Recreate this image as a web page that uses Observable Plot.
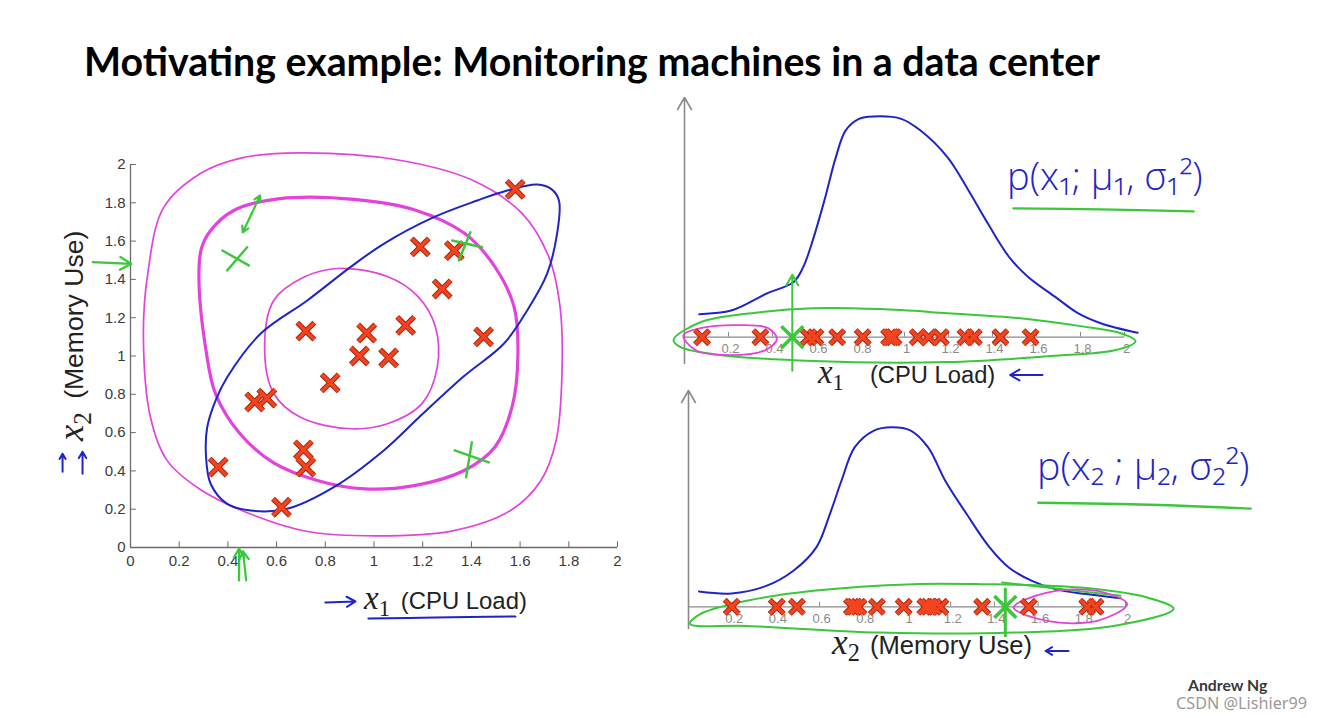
<!DOCTYPE html>
<html>
<head>
<meta charset="utf-8">
<script src="https://cdn.jsdelivr.net/npm/d3@7"></script>
<script src="https://cdn.jsdelivr.net/npm/@observablehq/plot@0.6"></script>
<style>
  html, body { margin: 0; padding: 0; background: #fff; }
  #page { position: relative; width: 1322px; height: 718px; overflow: hidden; background: #fff; }
  .p { position: absolute; }
  .p svg { overflow: visible; }
  .t { position: absolute; white-space: nowrap; line-height: 1; transform: translateY(-50%); color: #222; }
  .mx { font-family: "Liberation Serif", "DejaVu Serif", serif; font-style: italic; font-size: 1.38em; }
  .sb { font-family: "Liberation Serif", "DejaVu Serif", serif; font-size: 0.95em; position: relative; top: 0.3em; }
  .lab { font-family: "Liberation Sans", Arial, sans-serif; font-size: 22px; }
  .rot { position: absolute; white-space: nowrap; line-height: 1; transform-origin: 0 0; color: #222; }
  .hw { font-family: "Open Sans", "DejaVu Sans", sans-serif; font-weight: 300; color: #1f24c8; font-size: 34px; }
</style>
</head>
<body>
<div id="page">
  <div class="t" id="title" data-w="1016" style="left:84px;top:61px;font-family:Lato,'Open Sans',sans-serif;font-weight:700;font-size:36px;color:#000;">Motivating example: Monitoring machines in a data center</div>

  <div class="t lab" data-w="163" style="left:364px;top:598px;"><span class="mx">x</span><span class="sb">1</span><span style="margin-left:0.45em">(CPU Load)</span></div>
  <div class="rot lab" id="ylab" data-w="210"><span class="mx">x</span><span class="sb">2</span><span style="margin-left:0.5em">(Memory Use)</span></div>

  <div class="t lab" data-w="177" style="left:818px;top:372px;"><span class="mx">x</span><span class="sb">1</span><span style="margin-left:1.1em">(CPU Load)</span></div>
  <div class="t lab" data-w="200" style="left:832px;top:643px;"><span class="mx">x</span><span class="sb">2</span><span style="margin-left:0.4em">(Memory Use)</span></div>

  <div class="t hw" data-w="196" style="left:1007px;top:175px;">p(x₁; μ₁, σ₁²)</div>
  <div class="t hw" data-w="213" style="left:1037px;top:466px;">p(x₂ ; μ₂, σ₂²)</div>

  <div class="t" data-w="79" style="left:1188px;top:685px;font-family:Lato,sans-serif;font-weight:700;font-size:14px;color:#3a3a3a;">Andrew Ng</div>
  <div class="t" data-w="131" style="left:1176px;top:703px;font-family:'Noto Sans',sans-serif;font-size:13px;color:#9a9a9a;">CSDN @Lishier99</div>
</div>
<script>
// ---------- data ----------
const ticks = [0, 0.2, 0.4, 0.6, 0.8, 1, 1.2, 1.4, 1.6, 1.8, 2];
const tickLabels = ["0", "0.2", "0.4", "0.6", "0.8", "1", "1.2", "1.4", "1.6", "1.8", "2"];
const rTicks = [0.2, 0.4, 0.6, 0.8, 1, 1.2, 1.4, 1.6, 1.8, 2];
const rTickLabels = ["0.2", "0.4", "0.6", "0.8", "1", "1.2", "1.4", "1.6", "1.8", "2"];
const xDomain = [0, 2];
const yDomainLeft = [0, 2];
const yDomainTop = [-0.11, 1];
const yDomainBottom = [-0.1, 1];

// 2-D scatter (x1 CPU load, x2 memory use)
const cpuLoad = [1.58, 1.19, 1.33, 1.28, 0.72, 0.97, 1.13, 1.45, 0.94, 1.06, 0.82, 0.51, 0.56, 0.71, 0.72, 0.36, 0.62];
const memUse  = [1.87, 1.57, 1.55, 1.35, 1.13, 1.12, 1.16, 1.10, 1.00, 0.99, 0.86, 0.76, 0.78, 0.51, 0.42, 0.42, 0.21];

// hand-drawn contours (left plot)
const outerX = [0.693, 1.087, 1.40, 1.606, 1.717, 1.764, 1.772, 1.748, 1.685, 1.559, 1.323, 1.008, 0.72, 0.49, 0.29, 0.15, 0.082, 0.053, 0.071, 0.136, 0.287, 0.457];
const outerY = [2.061, 2.026, 1.92, 1.747, 1.52, 1.258, 0.908, 0.559, 0.349, 0.192, 0.087, 0.061, 0.085, 0.176, 0.30, 0.455, 0.68, 1.10, 1.432, 1.775, 1.953, 2.035];
const midX = [0.614, 0.929, 1.165, 1.37, 1.496, 1.575, 1.591, 1.567, 1.496, 1.37, 1.165, 0.961, 0.767, 0.59, 0.45, 0.35, 0.31, 0.281, 0.291, 0.329, 0.424];
const midY = [1.822, 1.817, 1.764, 1.642, 1.467, 1.258, 0.996, 0.734, 0.524, 0.402, 0.323, 0.306, 0.35, 0.44, 0.594, 0.80, 1.03, 1.411, 1.56, 1.655, 1.76];
const innerX = [0.551, 0.588, 0.709, 0.85, 1.055, 1.181, 1.252, 1.26, 1.197, 1.055, 0.903, 0.698, 0.589];
const innerY = [1.029, 1.29, 1.41, 1.457, 1.415, 1.31, 1.153, 0.943, 0.751, 0.646, 0.62, 0.68, 0.803];
const blueX = [1.67, 1.73, 1.76, 1.752, 1.711, 1.629, 1.533, 1.37, 1.181, 1.04, 0.835, 0.643, 0.493, 0.397, 0.329, 0.31, 0.315, 0.35, 0.397, 0.534, 0.726, 0.903, 1.04, 1.246, 1.424, 1.547];
const blueY = [1.895, 1.87, 1.81, 1.64, 1.43, 1.238, 1.064, 0.895, 0.675, 0.507, 0.315, 0.202, 0.193, 0.228, 0.333, 0.48, 0.628, 0.77, 0.889, 1.116, 1.29, 1.464, 1.586, 1.725, 1.812, 1.864];

// green anomaly crosses (strokes) and arrows, left plot
const gsx1 = [0.377, 0.479, 1.321, 1.396, 1.331, 1.402];
const gsy1 = [1.551, 1.568, 1.603, 1.646, 0.507, 0.55];
const gsx2 = [0.486, 0.397, 1.444, 1.348, 1.472, 1.378];
const gsy2 = [1.473, 1.446, 1.568, 1.499, 0.445, 0.367];
const garX1 = [-0.155, 0.446, 0.475, 0.497, 0.497];
const garY1 = [1.49, -0.172, -0.172, 1.742, 1.742];
const garX2 = [0.003, 0.446, 0.462, 0.532, 0.461];
const garY2 = [1.481, -0.005, -0.02, 1.838, 1.646];
const barX1 = [0.80, -0.279, -0.197];
const barY1 = [-0.287, 0.395, 0.385];
const barX2 = [0.924, -0.279, -0.197];
const barY2 = [-0.282, 0.49, 0.50];
const ulLeftX = [0.977, 1.25, 1.581];
const ulLeftY = [-0.371, -0.366, -0.36];

// top-right: density of x1
const c1x = [0.067, 0.216, 0.374, 0.496, 0.54, 0.583, 0.636, 0.688, 0.732, 0.793, 0.863, 0.985, 1.073, 1.195, 1.291, 1.379, 1.475, 1.562, 1.685, 1.79, 1.895, 2.06];
const c1y = [0.096, 0.112, 0.182, 0.23, 0.293, 0.404, 0.571, 0.751, 0.862, 0.911, 0.921, 0.911, 0.862, 0.751, 0.612, 0.474, 0.335, 0.251, 0.168, 0.099, 0.057, 0.018];
const topX1 = [0.08, 0.345, 0.565, 0.595, 0.694, 0.81, 0.93, 0.94, 0.95, 1.06, 1.11, 1.165, 1.277, 1.315, 1.436, 1.573];
const gTop = [0.49];
const gEll1X = [-0.05, 0.073, 0.345, 0.586, 0.89, 1.195, 1.527, 1.8, 1.98, 2.05, 1.96, 1.664, 1.195, 0.586, 0.132, -0.018];
const gEll1Y = [-0.012, 0.062, 0.104, 0.121, 0.117, 0.1, 0.079, 0.046, 0.017, -0.017, -0.054, -0.079, -0.104, -0.1, -0.071, -0.042];
const pEll1X = [-0.005, 0.073, 0.255, 0.38, 0.42, 0.368, 0.21, 0.05];
const pEll1Y = [0.008, 0.0375, 0.05, 0.0375, -0.008, -0.054, -0.075, -0.054];
const ul1x = [1.495, 1.89, 2.314];
const ul1y = [0.5375, 0.533, 0.525];
const gArrX1 = [0.49], gArrY1 = [-0.14], gArrX2 = [0.49], gArrY2 = [0.26];
const bArrX1 = [1.627], bArrY1 = [-0.158], bArrX2 = [1.48], bArrY2 = [-0.158];

// bottom-right: density of x2
const c2x = [0.048, 0.197, 0.356, 0.48, 0.585, 0.647, 0.70, 0.761, 0.849, 0.929, 1.017, 1.096, 1.175, 1.273, 1.378, 1.466, 1.572, 1.678, 1.819, 1.977];
const c2y = [0.071, 0.062, 0.097, 0.167, 0.275, 0.429, 0.583, 0.738, 0.815, 0.83, 0.815, 0.738, 0.583, 0.429, 0.275, 0.182, 0.12, 0.082, 0.059, 0.04];
const bottomX2 = [0.198, 0.404, 0.496, 0.748, 0.76, 0.778, 0.862, 0.985, 1.084, 1.10, 1.122, 1.153, 1.344, 1.557, 1.825, 1.863];
const gBottom = [1.45];
const gEll2X = [0.007, 0.267, 0.877, 1.487, 1.945, 2.22, 2.1, 1.794, 1.336, 1.029, 0.571, 0.267, 0.053];
const gEll2Y = [-0.079, -0.088, -0.119, -0.119, -0.088, -0.009, 0.043, 0.089, 0.105, 0.105, 0.074, 0.028, -0.034];
const gStrokeX = [1.435, 1.977];
const gStrokeY = [0.113, 0.051];
const pEll2X = [1.488, 1.641, 1.87, 2.008, 1.87, 1.641];
const pEll2Y = [-0.003, 0.066, 0.074, 0.0125, -0.065, -0.065];
const ul2x = [1.601, 2.114, 2.573];
const ul2y = [0.481, 0.472, 0.454];
const gVertX = [1.45, 1.45], gVertY = [0.083, -0.134];
const bArr2X1 = [1.739], bArr2Y1 = [-0.204], bArr2X2 = [1.634], bArr2Y2 = [-0.204];

(function () {
  const PINK = "#e442dc", BLUE = "#1f24c8", GREEN = "#3ac83a", RED = "#f4441f", REDDARK = "#a8260f";
  const AXIS = "#6a6a6a", RAXIS = "#8a8a8a";
  const zip = (xs, ys) => xs.map((x, i) => ({x, y: ys[i]}));
  const fontF = "Liberation Sans, Arial, sans-serif";
  const page = document.getElementById("page");

  function redX(values, xs, ys, r) {
    return [
      Plot.dot(values, {x: xs, y: ys, symbol: "times", r, stroke: REDDARK, strokeWidth: 5.4}),
      Plot.dot(values, {x: xs, y: ys, symbol: "times", r, stroke: RED, strokeWidth: 3.4})
    ];
  }
  function place(svg, left, topPx) {
    const w = document.createElement("div");
    w.className = "p"; w.style.left = left + "px"; w.style.top = topPx + "px";
    w.appendChild(svg); page.appendChild(w);
  }

  // ---------- left scatter ----------
  const plotLeft = Plot.plot({
    width: 660, height: 560, marginLeft: 130, marginRight: 43, marginTop: 44, marginBottom: 133,
    x: {domain: xDomain, axis: null}, y: {domain: yDomainLeft, axis: null},
    style: {background: "transparent", overflow: "visible"},
    marks: [
      Plot.ruleY([0], {x1: xDomain[0], x2: xDomain[1], stroke: AXIS, strokeWidth: 1.3}),
      Plot.ruleX([0], {y1: yDomainLeft[0], y2: yDomainLeft[1], stroke: AXIS, strokeWidth: 1.3}),
      Plot.ruleX(ticks, {x: d => d, y1: 0, y2: 0.03, stroke: AXIS}),
      Plot.ruleY(ticks, {y: d => d, x1: 0, x2: 0.024, stroke: AXIS}),
      Plot.text(ticks, {x: d => d, y: 0, dy: 14, text: tickLabels, fontSize: 15, fill: "#3a3a3a", fontFamily: fontF}),
      Plot.text(ticks, {x: 0, y: d => d, dx: -5, textAnchor: "end", text: tickLabels, fontSize: 15, fill: "#3a3a3a", fontFamily: fontF}),
      Plot.line(zip(outerX, outerY), {x: "x", y: "y", curve: "catmull-rom-closed", stroke: PINK, strokeWidth: 1.7}),
      Plot.line(zip(midX, midY), {x: "x", y: "y", curve: "catmull-rom-closed", stroke: PINK, strokeWidth: 3.2}),
      Plot.line(zip(innerX, innerY), {x: "x", y: "y", curve: "catmull-rom-closed", stroke: PINK, strokeWidth: 1.7}),
      Plot.line(zip(blueX, blueY), {x: "x", y: "y", curve: "catmull-rom-closed", stroke: BLUE, strokeWidth: 2}),
      ...redX(cpuLoad, cpuLoad, memUse, 7.8),
      Plot.link(gsx1, {x1: gsx1, y1: gsy1, x2: gsx2, y2: gsy2, stroke: GREEN, strokeWidth: 2.4, strokeLinecap: "round"}),
      Plot.arrow(garX1, {x1: garX1, y1: garY1, x2: garX2, y2: garY2, stroke: GREEN, strokeWidth: 2.2, headLength: 10}),
      Plot.arrow(barX1, {x1: barX1, y1: barY1, x2: barX2, y2: barY2, stroke: BLUE, strokeWidth: 2, headLength: 9}),
      Plot.line(zip(ulLeftX, ulLeftY), {x: "x", y: "y", curve: "catmull-rom", stroke: BLUE, strokeWidth: 2})
    ]
  });
  place(plotLeft, 0, 120);

  // ---------- top right ----------
  const plotTop = Plot.plot({
    width: 660, height: 300, marginLeft: 24, marginRight: 196, marginTop: 17, marginBottom: 17,
    x: {domain: xDomain, axis: null}, y: {domain: yDomainTop, axis: null},
    style: {background: "transparent", overflow: "visible"},
    marks: [
      Plot.line(zip(c1x, c1y), {x: "x", y: "y", curve: "catmull-rom", stroke: BLUE, strokeWidth: 2}),
      Plot.arrow([0], {x1: 0, y1: yDomainTop[0], x2: 0, y2: yDomainTop[1], stroke: RAXIS, strokeWidth: 1.6, headLength: 13}),
      Plot.ruleY([0], {x1: xDomain[0], x2: xDomain[1], stroke: RAXIS, strokeWidth: 1.4}),
      Plot.ruleX(rTicks, {x: d => d, y1: 0, y2: 0.02, stroke: RAXIS}),
      Plot.text(rTicks, {x: d => d, y: 0, dy: 12, dx: 2, text: rTickLabels, fontSize: 13, fill: "#8a8a8a", fontFamily: fontF}),
      Plot.line(zip(gEll1X, gEll1Y), {x: "x", y: "y", curve: "catmull-rom-closed", stroke: GREEN, strokeWidth: 2}),
      Plot.line(zip(pEll1X, pEll1Y), {x: "x", y: "y", curve: "catmull-rom-closed", stroke: PINK, strokeWidth: 1.8}),
      ...redX(topX1, d => d, 0, 6.5),
      Plot.dot(gTop, {x: d => d, y: 0, symbol: "times", r: 10, stroke: GREEN, strokeWidth: 3.6}),
      Plot.arrow(gArrX1, {x1: gArrX1, y1: gArrY1, x2: gArrX2, y2: gArrY2, stroke: GREEN, strokeWidth: 2, headLength: 9}),
      Plot.arrow(bArrX1, {x1: bArrX1, y1: bArrY1, x2: bArrX2, y2: bArrY2, stroke: BLUE, strokeWidth: 2, headLength: 9}),
      Plot.line(zip(ul1x, ul1y), {x: "x", y: "y", curve: "catmull-rom", stroke: GREEN, strokeWidth: 2.4})
    ]
  });
  place(plotTop, 660, 80);

  // ---------- bottom right ----------
  const plotBot = Plot.plot({
    width: 660, height: 290, marginLeft: 28, marginRight: 195, marginTop: 10, marginBottom: 42,
    x: {domain: xDomain, axis: null}, y: {domain: yDomainBottom, axis: null},
    style: {background: "transparent", overflow: "visible"},
    marks: [
      Plot.line(zip(c2x, c2y), {x: "x", y: "y", curve: "catmull-rom", stroke: BLUE, strokeWidth: 2}),
      Plot.arrow([0], {x1: 0, y1: yDomainBottom[0], x2: 0, y2: yDomainBottom[1], stroke: RAXIS, strokeWidth: 1.6, headLength: 13}),
      Plot.ruleY([0], {x1: xDomain[0], x2: xDomain[1], stroke: RAXIS, strokeWidth: 1.4}),
      Plot.ruleX(rTicks, {x: d => d, y1: 0, y2: 0.022, stroke: RAXIS}),
      Plot.text(rTicks, {x: d => d, y: 0, dy: 12, dx: 2, text: rTickLabels, fontSize: 13, fill: "#8a8a8a", fontFamily: fontF}),
      Plot.line(zip(gEll2X, gEll2Y), {x: "x", y: "y", curve: "catmull-rom-closed", stroke: GREEN, strokeWidth: 2}),
      Plot.line(zip(gStrokeX, gStrokeY), {x: "x", y: "y", stroke: GREEN, strokeWidth: 2}),
      Plot.line(zip(pEll2X, pEll2Y), {x: "x", y: "y", curve: "catmull-rom-closed", stroke: PINK, strokeWidth: 1.8}),
      ...redX(bottomX2, d => d, 0, 6.5),
      Plot.dot(gBottom, {x: d => d, y: 0, symbol: "times", r: 10, stroke: GREEN, strokeWidth: 3.6}),
      Plot.line(zip(gVertX, gVertY), {x: "x", y: "y", stroke: GREEN, strokeWidth: 3}),
      Plot.arrow(bArr2X1, {x1: bArr2X1, y1: bArr2Y1, x2: bArr2X2, y2: bArr2Y2, stroke: BLUE, strokeWidth: 2, headLength: 9}),
      Plot.line(zip(ul2x, ul2y), {x: "x", y: "y", curve: "catmull-rom", stroke: GREEN, strokeWidth: 2.4})
    ]
  });
  place(plotBot, 660, 380);

  // ---------- fit text widths ----------
  document.querySelectorAll("[data-w]").forEach(el => {
    const target = +el.dataset.w;
    const fs = parseFloat(getComputedStyle(el).fontSize);
    const w = el.offsetWidth;
    if (w > 0) el.style.fontSize = (fs * target / w) + "px";
  });
  // rotated y label, centred at (71, 336)
  const yl = document.getElementById("ylab");
  const ylw = yl.offsetWidth, ylh = yl.offsetHeight;
  yl.style.left = (71 - ylh / 2) + "px";
  yl.style.top = (336 + ylw / 2) + "px";
  yl.style.transform = "rotate(-90deg)";
})();
</script>
</body>
</html>
